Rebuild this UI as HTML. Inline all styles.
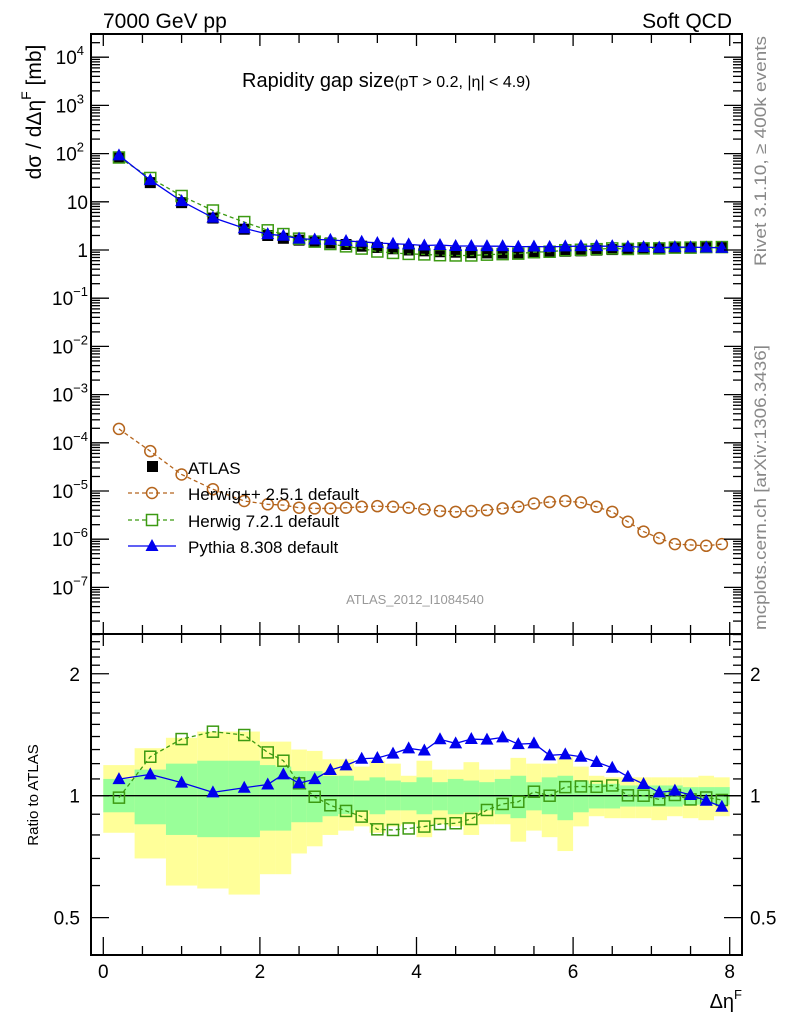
<!DOCTYPE html>
<html><head><meta charset="utf-8"><style>
html,body{margin:0;padding:0;background:#fff;}
svg{display:block;font-family:"Liberation Sans",sans-serif;}
</style></head><body>
<svg id="chart" width="786" height="1024" viewBox="0 0 786 1024" xmlns="http://www.w3.org/2000/svg">
<g id="bands"></g>
<g id="marks"></g>
<g id="axes"></g>
<text x="103" y="28" font-size="21">7000 GeV pp</text>
<text x="732" y="28" font-size="21" text-anchor="end">Soft QCD</text>
<text x="242" y="87" font-size="20">Rapidity gap size<tspan font-size="16">(pT &gt; 0.2, |η| &lt; 4.9)</tspan></text>
<text x="415" y="604" font-size="13" fill="#999" text-anchor="middle">ATLAS_2012_I1084540</text>
<text transform="translate(766,266) rotate(-90)" font-size="16.5" fill="#888" textLength="230" lengthAdjust="spacingAndGlyphs">Rivet 3.1.10, ≥ 400k events</text>
<text transform="translate(766,630) rotate(-90)" font-size="16.5" fill="#888" textLength="285" lengthAdjust="spacingAndGlyphs">mcplots.cern.ch [arXiv:1306.3436]</text>
<text transform="translate(41,112) rotate(-90)" font-size="21" text-anchor="middle">dσ / dΔη<tspan dy="-10" font-size="14">F</tspan><tspan dy="10"> [mb]</tspan></text>
<text transform="translate(38,795) rotate(-90)" font-size="15" text-anchor="middle">Ratio to ATLAS</text>
<text x="742" y="1008" font-size="20" text-anchor="end">Δη<tspan dy="-9" font-size="13">F</tspan></text>
<g id="legend"></g>
</svg>
<script>
const xCenters=[0.2,0.6,1.0,1.4,1.8,2.1,2.3,2.5,2.7,2.9,3.1,3.3,3.5,3.7,3.9,4.1,4.3,4.5,4.7,4.9,5.1,5.3,5.5,5.7,5.9,6.1,6.3,6.5,6.7,6.9,7.1,7.3,7.5,7.7,7.9];
const binEdges=[0,0.4,0.8,1.2,1.6,2.0,2.2,2.4,2.6,2.8,3.0,3.2,3.4,3.6,3.8,4.0,4.2,4.4,4.6,4.8,5.0,5.2,5.4,5.6,5.8,6.0,6.2,6.4,6.6,6.8,7.0,7.2,7.4,7.6,7.8,8.0];
const atlas=[84,25,9.6,4.6,2.7,2.0,1.75,1.6,1.5,1.4,1.3,1.2,1.13,1.06,1.0,0.96,0.92,0.9,0.88,0.87,0.86,0.87,0.88,0.92,0.94,0.96,0.99,1.02,1.05,1.08,1.1,1.12,1.14,1.16,1.18];
const pythia=[92,28.2,10.3,4.69,2.82,2.13,1.98,1.72,1.65,1.62,1.54,1.48,1.40,1.35,1.31,1.24,1.27,1.21,1.21,1.20,1.20,1.17,1.18,1.16,1.19,1.20,1.20,1.20,1.17,1.15,1.12,1.15,1.14,1.13,1.11];
const herwig7=[83,31.2,13.2,6.6,3.8,2.56,2.14,1.72,1.49,1.33,1.19,1.07,0.93,0.87,0.83,0.81,0.78,0.77,0.77,0.80,0.82,0.84,0.90,0.92,0.99,1.01,1.04,1.08,1.05,1.08,1.08,1.12,1.12,1.15,1.15];
const herwigpp=[1.94e-4,6.7e-5,2.2e-5,1.09e-5,6.2e-6,5.3e-6,5.1e-6,4.5e-6,4.35e-6,4.35e-6,4.5e-6,4.7e-6,4.85e-6,4.7e-6,4.5e-6,4.16e-6,3.84e-6,3.7e-6,3.84e-6,4.0e-6,4.35e-6,4.7e-6,5.5e-6,5.9e-6,6.2e-6,5.8e-6,4.7e-6,3.7e-6,2.3e-6,1.44e-6,1.05e-6,7.9e-7,7.6e-7,7.3e-7,7.9e-7];
const pythiaRatio=[1.099,1.129,1.077,1.019,1.046,1.066,1.129,1.073,1.099,1.157,1.188,1.234,1.239,1.270,1.309,1.293,1.378,1.346,1.380,1.375,1.393,1.341,1.346,1.258,1.265,1.248,1.211,1.172,1.114,1.069,1.019,1.029,1.004,0.972,0.939];
const herwig7Ratio=[0.989,1.248,1.380,1.439,1.412,1.279,1.220,1.073,0.994,0.947,0.917,0.888,0.826,0.823,0.830,0.839,0.851,0.855,0.876,0.922,0.954,0.966,1.023,1.0,1.050,1.054,1.052,1.060,1.002,1.0,0.979,1.004,0.979,0.99,0.976];
const totUp=[1.19,1.31,1.39,1.44,1.44,1.36,1.36,1.30,1.29,1.23,1.23,1.18,1.22,1.20,1.12,1.22,1.16,1.16,1.21,1.16,1.16,1.24,1.20,1.20,1.25,1.18,1.12,1.11,1.11,1.11,1.11,1.11,1.11,1.12,1.11];
const totDn=[0.81,0.70,0.60,0.59,0.57,0.64,0.64,0.72,0.75,0.80,0.82,0.84,0.81,0.84,0.85,0.79,0.85,0.84,0.80,0.85,0.85,0.77,0.82,0.79,0.73,0.84,0.89,0.88,0.88,0.88,0.87,0.89,0.88,0.87,0.89];
const statUp=[1.10,1.16,1.20,1.22,1.22,1.19,1.18,1.15,1.15,1.12,1.12,1.09,1.11,1.09,1.08,1.11,1.08,1.10,1.09,1.08,1.10,1.12,1.08,1.11,1.12,1.09,1.07,1.07,1.06,1.06,1.06,1.06,1.05,1.05,1.05];
const statDn=[0.91,0.85,0.80,0.79,0.79,0.82,0.82,0.86,0.86,0.89,0.90,0.92,0.90,0.92,0.92,0.90,0.92,0.90,0.91,0.92,0.90,0.88,0.92,0.90,0.87,0.91,0.93,0.93,0.94,0.94,0.94,0.94,0.95,0.95,0.95];
const xTicks=[0,2,4,6,8];
const mainTickExp=[4,3,2,1,0,-1,-2,-3,-4,-5,-6,-7];
const ratioTickLabels=[0.5,1,2];

const NS="http://www.w3.org/2000/svg";
const L=91,R=742,T=34,MB=634,RB=955;
const X=v=>103.3+v*78.3;
const YM=v=>250-48.2*Math.log10(v);
const YR=v=>795.7-405*Math.log10(v);
function mk(tag,attrs,parent){const e=document.createElementNS(NS,tag);for(const k in attrs)e.setAttribute(k,attrs[k]);parent.appendChild(e);return e;}
const bands=document.getElementById('bands'),marks=document.getElementById('marks'),axes=document.getElementById('axes'),legend=document.getElementById('legend');

for(let i=0;i<xCenters.length;i++){
  const x0=X(binEdges[i]),x1=X(binEdges[i+1]);
  const y=mk('rect',{x:x0,y:YR(totUp[i]),width:x1-x0,height:YR(totDn[i])-YR(totUp[i]),fill:'#ffff99'},bands);
  
  
}
for(let i=0;i<xCenters.length;i++){
  const x0=X(binEdges[i]),x1=X(binEdges[i+1]);
  const g=mk('rect',{x:x0,y:YR(statUp[i]),width:x1-x0,height:YR(statDn[i])-YR(statUp[i]),fill:'#99ff99'},bands);
  
  
}
const one=mk('line',{x1:L,x2:R,y1:YR(1),y2:YR(1),stroke:'#000','stroke-width':1.3},bands);



const cH7='#3c9a12',cPy='#0000ee',cHpp='#b5651d';
function poly(vals,Y,color,dash,name){
  const p=mk('polyline',{points:xCenters.map((x,i)=>X(x)+','+Y(vals[i])).join(' '),fill:'none',stroke:color,'stroke-width':1.3,'stroke-dasharray':dash||'none'},marks);
  
  
}
function sq(x,y,color,fill,name){
  const e=mk('rect',{x:x-5.5,y:y-5.5,width:11,height:11,fill:fill,stroke:color,'stroke-width':1.5},marks);
  
  
}
function tri(x,y,name,par){
  const e=mk('polygon',{points:`${x},${y-7} ${x-6.5},${y+5} ${x+6.5},${y+5}`,fill:cPy},par||marks);
  
  
}
function circ(x,y,name,par){
  const e=mk('circle',{cx:x,cy:y,r:5.5,fill:'none',stroke:cHpp,'stroke-width':1.5},par||marks);
  
  
}
poly(herwigpp,YM,cHpp,'4,3','herwigpp-line');
xCenters.forEach((x,i)=>circ(X(x),YM(herwigpp[i]),'herwigpp-point'));
xCenters.forEach((x,i)=>{const e=mk('rect',{x:X(x)-5.5,y:YM(atlas[i])-5.5,width:11,height:11,fill:'#000'},marks);
  
  });
poly(herwig7,YM,cH7,'4,3','herwig7-line');
xCenters.forEach((x,i)=>sq(X(x),YM(herwig7[i]),cH7,'none','herwig7-point'));
poly(pythia,YM,cPy,null,'pythia-line');
xCenters.forEach((x,i)=>tri(X(x),YM(pythia[i]),'pythia-point'));
poly(herwig7Ratio,YR,cH7,'4,3','herwig7-ratio-line');
xCenters.forEach((x,i)=>sq(X(x),YR(herwig7Ratio[i]),cH7,'none','herwig7-ratio-point'));
poly(pythiaRatio,YR,cPy,null,'pythia-ratio-line');
xCenters.forEach((x,i)=>tri(X(x),YR(pythiaRatio[i]),'pythia-ratio-point'));

for(const [y0,y1,nm] of [[T,MB,'main-frame'],[MB,RB,'ratio-frame']]){
  const f=mk('rect',{x:L,y:y0,width:R-L,height:y1-y0,fill:'none',stroke:'#000','stroke-width':2},axes);
  
  
}
function tick(x1,y1,x2,y2){mk('line',{x1,y1,x2,y2,stroke:'#000','stroke-width':1.3},axes);}
for(let v=0;v<=8.001;v+=0.5){
  const x=X(v),maj=Math.abs(v-Math.round(v/2)*2)<1e-6;
  const len=maj?18:9;
  tick(x,T,x,T+(maj?12:9)); tick(x,MB,x,MB-(maj?12:9)); tick(x,MB,x,MB+(maj?12:9)); tick(x,RB,x,RB-len);
}
xTicks.forEach(v=>{const t=mk('text',{x:X(v),y:978,'font-size':19,'text-anchor':'middle'},axes);t.textContent=v;
  
  });
for(let e=-8;e<=4;e++){
  for(let m=1;m<=9;m++){
    const v=m*Math.pow(10,e),y=YM(v);
    if(y<T||y>MB)continue;
    const len=m===1?18:9;
    tick(L,y,L+len,y);tick(R,y,R-len,y);
  }
}
mainTickExp.forEach(e=>{
  const y=YM(Math.pow(10,e));
  const t=mk('text',{x:88,y:y+7,'font-size':19,'text-anchor':'end'},axes);
  
  
  if(e===0)t.textContent='1';else if(e===1)t.textContent='10';
  else{t.textContent='10';const s=document.createElementNS(NS,'tspan');s.setAttribute('dy','-9');s.setAttribute('font-size','13');s.textContent=String(e).replace('-','−');t.appendChild(s);t.setAttribute('x',e<0?88:84);}
});
for(let v=0.4;v<=2.55;v+=0.1){
  const y=YR(v);if(y<MB||y>RB)continue;
  const maj=[0.5,1,2].some(m=>Math.abs(m-v)<1e-6);
  const len=maj?18:9;tick(L,y,L+len,y);tick(R,y,R-len,y);
}
ratioTickLabels.forEach(v=>{
  const y=YR(v);
  const a=mk('text',{x:80,y:y+7,'font-size':19,'text-anchor':'end'},axes);a.textContent=v;
  
  
  const b=mk('text',{x:750,y:y+7,'font-size':19},axes);b.textContent=v;
  
  
});
const lg=[['ATLAS',467],['Herwig++ 2.5.1 default',493],['Herwig 7.2.1 default',520],['Pythia 8.308 default',546]];
lg.forEach(([txt,y],i)=>{
  const t=mk('text',{x:188,y:y+7,'font-size':17},legend);t.textContent=txt;
  
  
  if(i===0){mk('rect',{x:147,y:y-6,width:11,height:11,fill:'#000'},legend);}
  if(i===1){mk('line',{x1:128,x2:176,y1:y,y2:y,stroke:cHpp,'stroke-width':1.3,'stroke-dasharray':'4,3'},legend);circ(152,y,'legend-herwigpp-marker',legend);}
  if(i===2){mk('line',{x1:128,x2:176,y1:y,y2:y,stroke:cH7,'stroke-width':1.3,'stroke-dasharray':'4,3'},legend);mk('rect',{x:146.5,y:y-5.5,width:11,height:11,fill:'#fff',stroke:cH7,'stroke-width':1.5},legend);}
  if(i===3){mk('line',{x1:128,x2:176,y1:y,y2:y,stroke:cPy,'stroke-width':1.3},legend);tri(152,y,'legend-pythia-marker',legend);}
});
</script>
</body></html>
